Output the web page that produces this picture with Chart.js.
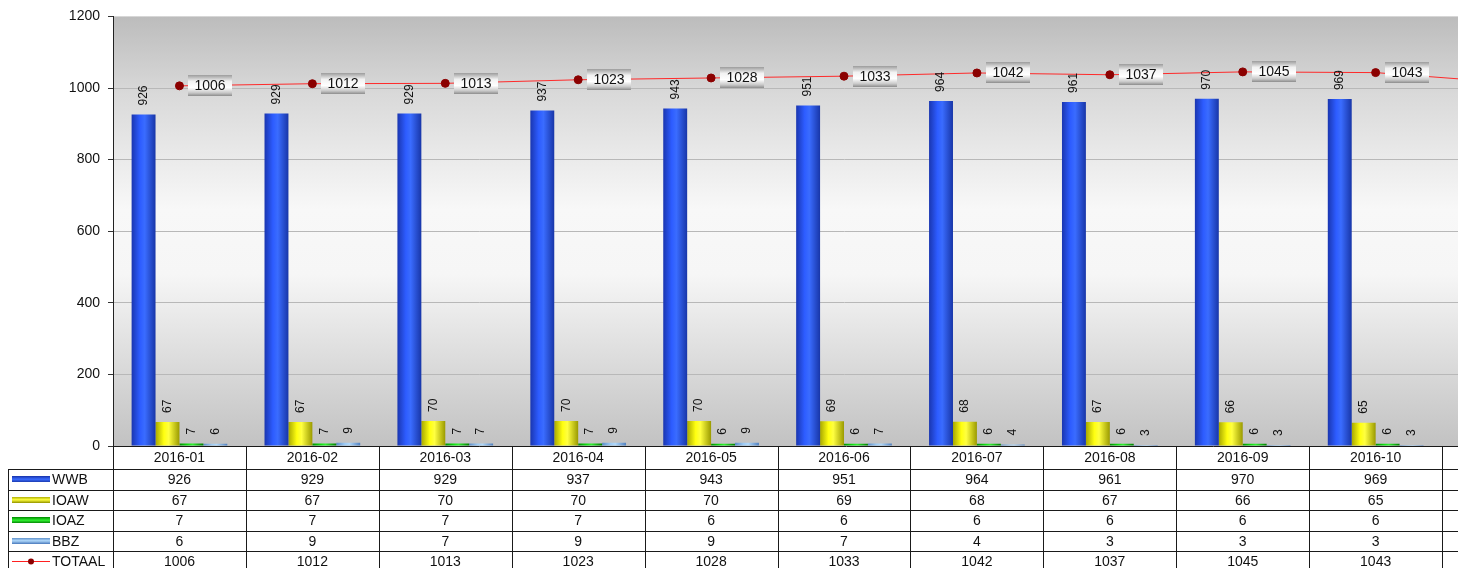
<!DOCTYPE html>
<html>
<head>
<meta charset="utf-8">
<script src="https://cdn.jsdelivr.net/npm/chart.js@4/dist/chart.umd.min.js"></script>
<style>
  html, body { margin: 0; padding: 0; background: #fff; overflow: hidden; }
  #wrap { width: 1458px; height: 568px; overflow: hidden; position: relative; }
  #c { position: absolute; left: 0; top: 0; }
</style>
</head>
<body>
<div id="wrap"><canvas id="c" width="1580" height="568"></canvas></div>
<script>
// ---- data ----
const categories = ['2016-01','2016-02','2016-03','2016-04','2016-05','2016-06','2016-07','2016-08','2016-09','2016-10','2016-11'];
const wwb   = [926, 929, 929, 937, 943, 951, 964, 961, 970, 969, null];
const ioaw  = [67, 67, 70, 70, 70, 69, 68, 67, 66, 65, null];
const ioaz  = [7, 7, 7, 7, 6, 6, 6, 6, 6, 6, null];
const bbz   = [6, 9, 7, 9, 9, 7, 4, 3, 3, 3, null];
const totaal = [1006, 1012, 1013, 1023, 1028, 1033, 1042, 1037, 1045, 1043, 1015];
const seriesNames = ['WWB', 'IOAW', 'IOAZ', 'BBZ', 'TOTAAL'];
const yTicks = [0, 200, 400, 600, 800, 1000, 1200];

const FONT = '"Liberation Sans", Arial, sans-serif';
const CAT_PCT = 0.72;

const barStops = [
  ['#1a36b0', '#2d5cff', '#3a6cff', '#1836a8'],
  ['#a8a800', '#ffff10', '#ffff40', '#9a9a00'],
  ['#009000', '#10e010', '#30f030', '#008000'],
  ['#5a8cc8', '#9ccaf4', '#b0d8fa', '#5080c0']
];

function barColor(idx) {
  return function(ctx) {
    const chart = ctx.chart;
    const xs = chart.scales && chart.scales.x;
    const st = barStops[idx];
    if (!xs || ctx.type !== 'data' || !chart.chartArea) return st[1];
    const c = xs.getPixelForValue(ctx.dataIndex);
    const cw = xs.getPixelForValue(1) - xs.getPixelForValue(0);
    const bw = cw * CAT_PCT / 4;
    const left = c - cw * CAT_PCT / 2 + idx * bw;
    const g = chart.ctx.createLinearGradient(left, 0, left + bw, 0);
    g.addColorStop(0, st[0]);
    g.addColorStop(0.35, st[1]);
    g.addColorStop(0.55, st[2]);
    g.addColorStop(1, st[3]);
    return g;
  };
}

const bgPlugin = {
  id: 'bg',
  beforeDraw(chart) {
    const a = chart.chartArea, ctx = chart.ctx;
    const g = ctx.createLinearGradient(0, a.top, 0, a.bottom);
    g.addColorStop(0, '#bcbcbc');
    g.addColorStop(0.18, '#d9d9d9');
    g.addColorStop(0.45, '#f8f8f8');
    g.addColorStop(0.6, '#f6f6f6');
    g.addColorStop(1, '#c2c2c2');
    ctx.save();
    ctx.fillStyle = g;
    ctx.fillRect(a.left, a.top, a.right - a.left, a.bottom - a.top);
    ctx.restore();
  }
};

const labelPlugin = {
  id: 'labels',
  afterDatasetsDraw(chart) {
    const ctx = chart.ctx;
    ctx.save();
    // bar labels rotated
    ctx.font = '12px ' + FONT;
    ctx.fillStyle = '#111';
    for (let d = 0; d < 4; d++) {
      const meta = chart.getDatasetMeta(d);
      const vals = chart.data.datasets[d].data;
      meta.data.forEach((el, i) => {
        if (vals[i] == null) return;
        ctx.save();
        ctx.translate(el.x, el.y - 9);
        ctx.rotate(-Math.PI / 2);
        ctx.textAlign = 'left';
        ctx.textBaseline = 'middle';
        ctx.fillText(String(vals[i]), 0, 0);
        ctx.restore();
      });
    }
    // line labels in boxes
    const lm = chart.getDatasetMeta(4);
    const lv = chart.data.datasets[4].data;
    ctx.font = '14px ' + FONT;
    lm.data.forEach((pt, i) => {
      if (lv[i] == null) return;
      const bx = Math.round(pt.x + 9), bw = 44, bh = 21;
      const by = Math.round(pt.y - bh / 2);
      const g = ctx.createLinearGradient(0, by, 0, by + bh);
      g.addColorStop(0, '#9c9c9c');
      g.addColorStop(0.3, '#f2f2f2');
      g.addColorStop(0.6, '#ffffff');
      g.addColorStop(0.85, '#c8c8c8');
      g.addColorStop(1, '#8c8c8c');
      ctx.fillStyle = g;
      ctx.fillRect(bx, by, bw, bh);
      ctx.fillStyle = '#111';
      ctx.textAlign = 'center';
      ctx.textBaseline = 'middle';
      ctx.fillText(String(lv[i]), bx + bw / 2, by + bh / 2 + 1);
    });
    ctx.restore();
  }
};

const tablePlugin = {
  id: 'table',
  afterDraw(chart) {
    const ctx = chart.ctx, xs = chart.scales.x;
    const a = chart.chartArea;
    const cw = xs.getPixelForValue(1) - xs.getPixelForValue(0);
    const rows = [446, 469, 489.5, 510, 530.5, 551, 571.5];
    const W = chart.width;
    ctx.save();
    ctx.strokeStyle = '#1a1a1a';
    ctx.lineWidth = 1;
    ctx.beginPath();
    ctx.moveTo(a.left, rows[0] + 0.5); ctx.lineTo(W, rows[0] + 0.5);
    for (let r = 1; r < rows.length; r++) {
      const y = Math.round(rows[r]) + 0.5;
      ctx.moveTo(8, y); ctx.lineTo(W, y);
    }
    ctx.moveTo(8.5, Math.round(rows[1])); ctx.lineTo(8.5, 568);
    for (let i = 0; i <= categories.length; i++) {
      const x = Math.round(xs.getPixelForValue(0) - cw / 2 + i * cw) + 0.5;
      ctx.moveTo(x, rows[0]); ctx.lineTo(x, 568);
    }
    ctx.stroke();

    ctx.fillStyle = '#111';
    ctx.font = '14px ' + FONT;
    ctx.textAlign = 'center';
    ctx.textBaseline = 'middle';
    const seriesVals = [wwb, ioaw, ioaz, bbz, totaal];
    categories.forEach((c, i) => {
      const x = xs.getPixelForValue(i);
      ctx.fillText(c, x, (rows[0] + rows[1]) / 2 + 1);
      seriesVals.forEach((arr, r) => {
        if (arr[i] == null) return;
        ctx.fillText(String(arr[i]), x, (rows[r + 1] + rows[r + 2]) / 2 + 1);
      });
    });

    ctx.textAlign = 'left';
    seriesNames.forEach((n, r) => {
      const yc = (rows[r + 1] + rows[r + 2]) / 2;
      if (r < 4) {
        const st = barStops[r];
        const g = ctx.createLinearGradient(0, yc - 3, 0, yc + 3);
        g.addColorStop(0, st[0]);
        g.addColorStop(0.5, st[2]);
        g.addColorStop(1, st[3]);
        ctx.fillStyle = g;
        ctx.fillRect(12, Math.round(yc) - 3, 38, 6);
      } else {
        ctx.strokeStyle = '#ff2020';
        ctx.beginPath();
        ctx.moveTo(12, Math.round(yc) + 0.5); ctx.lineTo(50, Math.round(yc) + 0.5);
        ctx.stroke();
        ctx.fillStyle = '#8b0000';
        ctx.beginPath();
        ctx.arc(31, Math.round(yc) + 0.5, 3, 0, Math.PI * 2);
        ctx.fill();
      }
      ctx.fillStyle = '#111';
      ctx.fillText(n, 52, yc + 1);
    });
    ctx.restore();
  }
};

new Chart(document.getElementById('c'), {
  data: {
    labels: categories,
    datasets: [
      { type: 'bar', label: seriesNames[0], data: wwb, backgroundColor: barColor(0), order: 2 },
      { type: 'bar', label: seriesNames[1], data: ioaw, backgroundColor: barColor(1), order: 2 },
      { type: 'bar', label: seriesNames[2], data: ioaz, backgroundColor: barColor(2), order: 2 },
      { type: 'bar', label: seriesNames[3], data: bbz, backgroundColor: barColor(3), order: 2 },
      { type: 'line', label: seriesNames[4], data: totaal, borderColor: '#ff2a2a', borderWidth: 1,
        pointBackgroundColor: '#8b0000', pointBorderColor: '#8b0000', pointRadius: 4, tension: 0, order: 1 }
    ]
  },
  options: {
    responsive: false,
    animation: false,
    events: [],
    layout: { padding: { left: 0, top: 15, right: 4, bottom: 122 } },
    datasets: { bar: { categoryPercentage: CAT_PCT, barPercentage: 1.0 } },
    plugins: { legend: { display: false }, tooltip: { enabled: false } },
    scales: {
      x: { display: false },
      y: {
        min: 0, max: 1200,
        afterFit(s) { s.width = 113; },
        afterBuildTicks(s) { s.ticks = yTicks.map(v => ({ value: v })); },
        ticks: { font: { family: FONT, size: 14 }, color: '#111', padding: 8, callback: (v) => String(v) },
        grid: {
          color: (c) => (c.tick && (c.tick.value === 0 || c.tick.value === 1200)) ? 'rgba(0,0,0,0)' : '#b8b8b8',
          tickColor: '#333', tickLength: 5, lineWidth: 1
        },
        border: { color: '#222', width: 1 }
      }
    }
  },
  plugins: [bgPlugin, labelPlugin, tablePlugin]
});
</script>
</body>
</html>
